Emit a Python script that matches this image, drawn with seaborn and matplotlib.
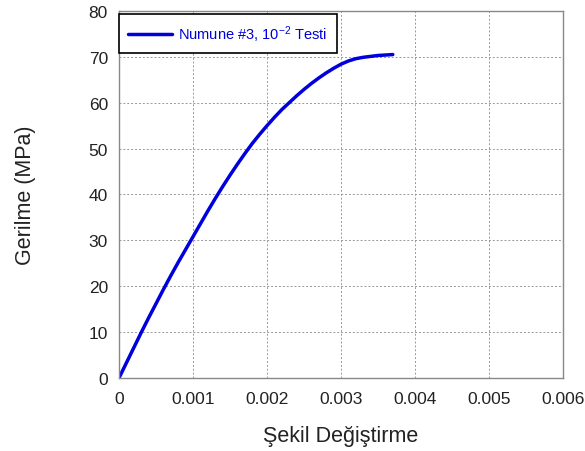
import matplotlib
matplotlib.use("Agg")
import matplotlib.pyplot as plt
import seaborn as sns
import pandas as pd

strain = [0.0, 0.0001, 0.0002, 0.0003, 0.0004, 0.0005, 0.0006, 0.0007, 0.0008, 0.0009,
          0.001, 0.0011, 0.0012, 0.0013, 0.0014, 0.0015, 0.0016, 0.0017, 0.0018, 0.0019,
          0.002, 0.0021, 0.0022, 0.0023, 0.0024, 0.0025, 0.0026, 0.0027, 0.0028, 0.0029,
          0.003, 0.0031, 0.0032, 0.0033, 0.0034, 0.0035, 0.0036, 0.0037]
stress = [0.0, 3.3, 6.6, 9.9, 13.1, 16.2, 19.3, 22.3, 25.2, 28.0,
          30.8, 33.6, 36.4, 39.1, 41.7, 44.2, 46.6, 48.9, 51.1, 53.1,
          55.0, 56.8, 58.5, 60.0, 61.5, 62.9, 64.2, 65.4, 66.5, 67.5,
          68.4, 69.1, 69.6, 69.9, 70.1, 70.3, 70.4, 70.5]
label = "Numune #3, 10$^{-2}$ Testi"

sns.set_theme(style="white")
plt.rcParams['font.family'] = ['Liberation Sans', 'DejaVu Sans']
plt.rcParams['mathtext.default'] = 'regular'

df = pd.DataFrame({"strain": strain, "stress": stress})
fig = plt.figure(figsize=(5.85, 4.52), dpi=100)
ax = fig.add_axes([0.2034, 0.1615, 0.759, 0.812])
sns.lineplot(data=df, x="strain", y="stress", ax=ax, color="#0000dd", lw=2.5, label=label)
ax.set_xlim(0, 0.006)
ax.set_ylim(0, 80)
ax.set_xticks([0, 0.001, 0.002, 0.003, 0.004, 0.005, 0.006])
ax.set_xticklabels(["0", "0.001", "0.002", "0.003", "0.004", "0.005", "0.006"])
ax.set_yticks(range(0, 81, 10))
ax.grid(True, color="#999999", linestyle=(0, (2, 2)), linewidth=0.7)
for s in ax.spines.values():
    s.set_color("#888888")
    s.set_linewidth(1.0)
ax.tick_params(direction="in", length=5, color="#888888", labelsize=12.5, labelcolor="#222222")
ax.tick_params(axis="x", pad=9)
ax.tick_params(axis="y", pad=8)
ax.set_xlabel("Şekil Değiştirme", fontsize=15.5, color="#222222", labelpad=14)
ax.set_ylabel("Gerilme (MPa)", fontsize=15.5, color="#222222", labelpad=38)
leg = ax.legend(loc="upper left", bbox_to_anchor=(0.0, 0.993), borderaxespad=0.0, fontsize=10.5,
                fancybox=False, framealpha=1, edgecolor="black", handlelength=3.0,
                handletextpad=0.4, borderpad=0.65, labelcolor="#0000dd")
leg.get_frame().set_linewidth(1.2)
fig.savefig("out.png", dpi=100)
